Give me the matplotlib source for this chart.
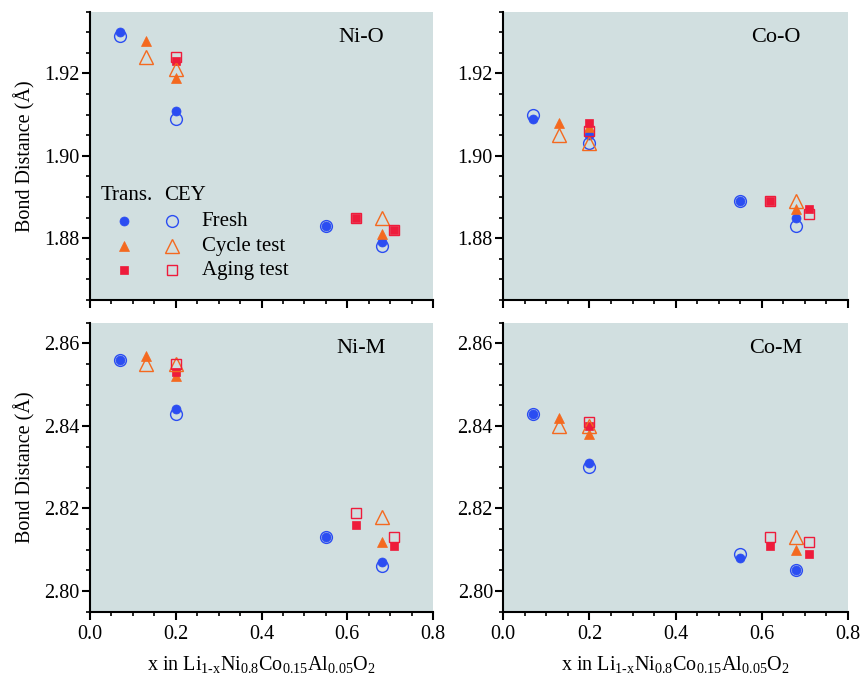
import matplotlib
matplotlib.use("Agg")
import matplotlib.pyplot as plt
from matplotlib.ticker import MultipleLocator, FormatStrFormatter

plt.rcParams['font.family'] = ['Liberation Serif', 'DejaVu Serif']
plt.rcParams['mathtext.fontset'] = 'custom'
plt.rcParams['mathtext.rm'] = 'Liberation Serif'
plt.rcParams['mathtext.it'] = 'Liberation Serif:italic'

# ---------------- data ----------------
x_fresh = [0.07, 0.20, 0.55, 0.68]
x_cycle = [0.13, 0.20, 0.68]
x_aging = [0.20, 0.62, 0.71]

# Ni-O
nio_fresh_trans = [1.930, 1.911, 1.883, 1.879]
nio_fresh_cey = [1.929, 1.909, 1.883, 1.878]
nio_cycle_trans = [1.928, 1.919, 1.881]
nio_cycle_cey = [1.924, 1.921, 1.885]
nio_aging_trans = [1.923, 1.885, 1.882]
nio_aging_cey = [1.924, 1.885, 1.882]

# Co-O
coo_fresh_trans = [1.909, 1.905, 1.889, 1.885]
coo_fresh_cey = [1.910, 1.903, 1.889, 1.883]
coo_cycle_trans = [1.908, 1.907, 1.887]
coo_cycle_cey = [1.905, 1.903, 1.889]
coo_aging_trans = [1.908, 1.889, 1.887]
coo_aging_cey = [1.906, 1.889, 1.886]

# Ni-M
nim_fresh_trans = [2.856, 2.844, 2.813, 2.807]
nim_fresh_cey = [2.856, 2.843, 2.813, 2.806]
nim_cycle_trans = [2.857, 2.852, 2.812]
nim_cycle_cey = [2.855, 2.855, 2.818]
nim_aging_trans = [2.853, 2.816, 2.811]
nim_aging_cey = [2.855, 2.819, 2.813]

# Co-M
com_fresh_trans = [2.843, 2.831, 2.808, 2.805]
com_fresh_cey = [2.843, 2.830, 2.809, 2.805]
com_cycle_trans = [2.842, 2.838, 2.810]
com_cycle_cey = [2.840, 2.840, 2.813]
com_aging_trans = [2.840, 2.811, 2.809]
com_aging_cey = [2.841, 2.813, 2.812]

panel_names = ["Ni-O", "Co-O", "Ni-M", "Co-M"]
legend_labels = ["Fresh", "Cycle test", "Aging test"]
col_heads = ["Trans.", "CEY"]
ylabel = "Bond Distance (Å)"
xlabel = r"x in Li$_{\mathrm{1\text{-}x}}$Ni$_{\mathrm{0.8}}$Co$_{\mathrm{0.15}}$Al$_{\mathrm{0.05}}$O$_{\mathrm{2}}$"

C_FRESH = "#2b4df2"
C_CYCLE = "#f4691f"
C_AGING = "#ee1b3b"
BG = "#d1dfe0"

panels = [
    (nio_fresh_trans, nio_fresh_cey, nio_cycle_trans, nio_cycle_cey, nio_aging_trans, nio_aging_cey),
    (coo_fresh_trans, coo_fresh_cey, coo_cycle_trans, coo_cycle_cey, coo_aging_trans, coo_aging_cey),
    (nim_fresh_trans, nim_fresh_cey, nim_cycle_trans, nim_cycle_cey, nim_aging_trans, nim_aging_cey),
    (com_fresh_trans, com_fresh_cey, com_cycle_trans, com_cycle_cey, com_aging_trans, com_aging_cey),
]

fig = plt.figure(figsize=(8.62, 6.73), dpi=100)
W, H = 862, 673
def rect(l, r, t, b):
    return [l / W, 1 - b / H, (r - l) / W, (b - t) / H]

rects = [rect(90, 433, 11.7, 300), rect(503.3, 848, 11.7, 300),
         rect(90, 433, 322.7, 611.7), rect(503.3, 848, 322.7, 611.7)]

styles = {
    'fresh': dict(marker='o', color=C_FRESH),
    'cycle': dict(marker='^', color=C_CYCLE),
    'aging': dict(marker='s', color=C_AGING),
}
filled_ms = {'o': 6.5, '^': 7.5, 's': 5.8}
open_ms = {'o': 8.5, '^': 10, 's': 7.5}

def draw_filled(ax, x, y, key, **kw):
    st = styles[key]
    ax.plot(x, y, linestyle='none', marker=st['marker'], markersize=filled_ms[st['marker']],
            markerfacecolor=st['color'], markeredgecolor=st['color'], markeredgewidth=0.5, zorder=3, **kw)

def draw_open(ax, x, y, key, **kw):
    st = styles[key]
    ax.plot(x, y, linestyle='none', marker=st['marker'], markersize=open_ms[st['marker']],
            markerfacecolor='none', markeredgecolor=st['color'], markeredgewidth=1.0, zorder=4, **kw)

for i, (r, data, name) in enumerate(zip(rects, panels, panel_names)):
    ax = fig.add_axes(r)
    ax.set_facecolor(BG)
    ft, fc, ct, cc, at, ac = data
    draw_open(ax, x_fresh, fc, 'fresh')
    draw_open(ax, x_cycle, cc, 'cycle')
    draw_open(ax, x_aging, ac, 'aging')
    draw_filled(ax, x_fresh, ft, 'fresh')
    draw_filled(ax, x_cycle, ct, 'cycle')
    draw_filled(ax, x_aging, at, 'aging')

    ax.set_xlim(0.0, 0.8)
    if i < 2:
        ax.set_ylim(1.865, 1.935)
    else:
        ax.set_ylim(2.795, 2.865)
    ax.xaxis.set_major_locator(MultipleLocator(0.2))
    ax.xaxis.set_minor_locator(MultipleLocator(0.05))
    ax.yaxis.set_major_locator(MultipleLocator(0.02))
    ax.yaxis.set_minor_locator(MultipleLocator(0.005))
    ax.xaxis.set_major_formatter(FormatStrFormatter('%.1f'))
    ax.yaxis.set_major_formatter(FormatStrFormatter('%.2f'))
    for s in ['top', 'right']:
        ax.spines[s].set_visible(False)
    for s in ['left', 'bottom']:
        ax.spines[s].set_linewidth(1.5)
        ax.spines[s].set_color('black')
    ax.tick_params(which='major', direction='out', length=5.5, width=1.5, labelsize=14.5, pad=2)
    ax.tick_params(axis='x', which='major', pad=4)
    ax.tick_params(which='minor', direction='out', length=3, width=1.2)
    if i < 2:
        ax.tick_params(axis='x', labelbottom=False)
    else:
        ax.set_xlabel(xlabel, fontsize=14.5, labelpad=7)
    if i % 2 == 0:
        ax.set_ylabel(ylabel, fontsize=14.5, labelpad=6)
    ax.text(0.79, 0.91, name, transform=ax.transAxes, fontsize=16, ha='center', va='center')

    if i == 0:
        # custom legend
        ax.text(0.107, 0.364, col_heads[0], transform=ax.transAxes, fontsize=15, ha='center', va='center')
        ax.text(0.277, 0.364, col_heads[1], transform=ax.transAxes, fontsize=15, ha='center', va='center')
        rows_y = [0.274, 0.187, 0.104]
        for key, yy, lab in zip(['fresh', 'cycle', 'aging'], rows_y, legend_labels):
            draw_filled(ax, [0.099], [yy], key, transform=ax.transAxes, clip_on=False)
            draw_open(ax, [0.238], [yy], key, transform=ax.transAxes, clip_on=False)
            ax.text(0.326, yy, lab, transform=ax.transAxes, fontsize=15, ha='left', va='center')

fig.savefig("out.png", dpi=100)
